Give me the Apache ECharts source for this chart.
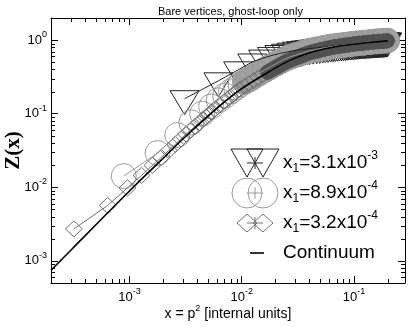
<!DOCTYPE html>
<html>
<head>
<meta charset="utf-8">
<script src="https://cdn.jsdelivr.net/npm/echarts@6/dist/echarts.min.js"></script>
<style>
html, body { margin: 0; padding: 0; background: #fff; }
#chart { width: 409px; height: 327px; }
</style>
</head>
<body>
<div id="chart"></div>
<script>
// x1 = 3.1e-3 (triangles)
const triX = [0.0031, 0.0062, 0.0093, 0.0124, 0.0155, 0.0186, 0.0217, 0.0248, 0.0279, 0.031,
  0.0341, 0.0372, 0.0403, 0.0434, 0.0465, 0.0496, 0.0527, 0.0558, 0.0589, 0.062,
  0.0651, 0.0682, 0.0713, 0.0744, 0.0775, 0.0806, 0.0837, 0.0868, 0.0899, 0.093,
  0.0961, 0.0992, 0.1023, 0.1054, 0.1085, 0.1116, 0.1147, 0.1178, 0.1209, 0.124,
  0.1271, 0.1302, 0.1333, 0.1364, 0.1395, 0.1426, 0.1457, 0.1488, 0.1519, 0.155,
  0.1581, 0.1612, 0.1643, 0.1674, 0.1705, 0.1736, 0.1767, 0.1798, 0.1829, 0.186,
  0.1891, 0.1922, 0.1953, 0.1984];
const triY = [0.160, 0.280, 0.395, 0.505, 0.570, 0.620, 0.658, 0.685, 0.709, 0.730,
  0.745, 0.757, 0.768, 0.778, 0.788, 0.797, 0.806, 0.815, 0.823, 0.831,
  0.838, 0.845, 0.851, 0.857, 0.863, 0.868, 0.873, 0.878, 0.883, 0.888,
  0.892, 0.896, 0.900, 0.904, 0.908, 0.911, 0.914, 0.917, 0.920, 0.923,
  0.926, 0.929, 0.932, 0.934, 0.936, 0.938, 0.940, 0.942, 0.944, 0.946,
  0.948, 0.950, 0.952, 0.954, 0.956, 0.958, 0.960, 0.962, 0.964, 0.966,
  0.968, 0.970, 0.972, 0.974];

// x1 = 8.9e-4 (circles)
const circX = [0.00089, 0.00178, 0.00267, 0.00356, 0.00445, 0.00534, 0.00623, 0.00712, 0.00801, 0.0089,
  0.00979, 0.01068, 0.01157, 0.01246, 0.01424, 0.01602, 0.0178, 0.02047, 0.02314, 0.0267,
  0.03115, 0.0356, 0.04094, 0.04717, 0.05429, 0.0623, 0.0712, 0.08188, 0.09345, 0.1068,
  0.1219, 0.1388, 0.1584, 0.178, 0.1976];
const circY = [0.0142, 0.0292, 0.0513, 0.0760, 0.1001, 0.1253, 0.1523, 0.1762, 0.2011, 0.2263,
  0.2517, 0.2725, 0.2928, 0.3127, 0.3534, 0.3933, 0.4294, 0.4834, 0.5334, 0.5891,
  0.6347, 0.6781, 0.7223, 0.7512, 0.7848, 0.8177, 0.8388, 0.8605, 0.8836, 0.9044,
  0.9218, 0.9412, 0.9615, 0.9736, 0.9858];

// x1 = 3.2e-4 (diamonds)
const diaX = [0.00032, 0.00064, 0.00096, 0.00128, 0.0016, 0.00192, 0.00224, 0.00256, 0.00288, 0.0032,
  0.00352, 0.00384, 0.00416, 0.00448, 0.0048, 0.00512, 0.00544, 0.00576, 0.0064, 0.00704,
  0.00768, 0.00832, 0.00896, 0.0096, 0.01056, 0.01152, 0.0128, 0.01408, 0.01536, 0.01696,
  0.01856, 0.02048, 0.0224, 0.02464, 0.0272, 0.03008, 0.03328, 0.0368, 0.04064, 0.0448,
  0.0496, 0.05472, 0.06048, 0.06688, 0.07392, 0.0816, 0.09024, 0.09984, 0.1104, 0.1219,
  0.1347, 0.1491, 0.1648, 0.1821, 0.1984];
const diaY = [0.00272, 0.00567, 0.0098, 0.0145, 0.0198, 0.0255, 0.0317, 0.0383, 0.0454, 0.0528,
  0.0598, 0.0670, 0.0747, 0.0824, 0.0903, 0.0984, 0.1067, 0.1151, 0.1322, 0.1479,
  0.1639, 0.180, 0.1966, 0.2134, 0.2355, 0.2553, 0.2818, 0.3083, 0.3346, 0.3653,
  0.395, 0.430, 0.4645, 0.5044, 0.538, 0.571, 0.606, 0.643, 0.679, 0.704,
  0.732, 0.758, 0.787, 0.810, 0.828, 0.846, 0.865, 0.885, 0.900, 0.914,
  0.929, 0.944, 0.958, 0.969, 0.979];

// continuum curve
const contX = [0.0002, 0.000316, 0.0005, 0.001, 0.002, 0.00316, 0.00631, 0.01, 0.0158, 0.0251, 0.0398, 0.0631, 0.1, 0.158, 0.2];
const contY = [0.000741, 0.00151, 0.00307, 0.00891, 0.0249, 0.049, 0.126, 0.219, 0.339, 0.507, 0.668, 0.794, 0.881, 0.951, 0.977];

const legendNames = ['{b|x}{sub|1}{b|=3.1x10}{sup|-3}', '{b|x}{sub|1}{b|=8.9x10}{sup|-4}', '{b|x}{sub|1}{b|=3.2x10}{sup|-4}', '{b|Continuum}'];

const xMinorTicks = [3e-4, 4e-4, 5e-4, 6e-4, 7e-4, 8e-4, 9e-4, 2e-3, 3e-3, 4e-3, 5e-3, 6e-3, 7e-3, 8e-3, 9e-3,
  0.02, 0.03, 0.04, 0.05, 0.06, 0.07, 0.08, 0.09, 0.2];
const yMinorTicks = [6e-4, 7e-4, 8e-4, 9e-4, 2e-3, 3e-3, 4e-3, 5e-3, 6e-3, 7e-3, 8e-3, 9e-3,
  0.02, 0.03, 0.04, 0.05, 0.06, 0.07, 0.08, 0.09, 0.2, 0.3, 0.4, 0.5, 0.6, 0.7, 0.8, 0.9];

const SANS = '"Liberation Sans", Arial, Helvetica, sans-serif';
const SERIF = '"Liberation Serif", "Times New Roman", serif';
const TRI = '#222', CIRC = '#9a9a9a', DIA = '#707070';

const pairs = (xs, ys) => xs.map((x, i) => [x, ys[i]]);

const decadeLabel = (v) => {
    const e = Math.log10(v);
    const r = Math.round(e);
    if (Math.abs(e - r) > 1e-6) return '';
    return '{b|10}{s|' + r + '}';
};
const labelRich = {
    b: { fontSize: 13, lineHeight: 20, fontFamily: SANS, color: '#000' },
    s: { fontSize: 9, lineHeight: 9, verticalAlign: 'top', fontFamily: SANS, color: '#000' },
};

const tickLine = (x1, y1, x2, y2) => ({
    type: 'line',
    shape: { x1, y1, x2, y2 },
    style: { stroke: '#000', lineWidth: 1 },
});
const minorX = (params, api) => {
    const cs = params.coordSys;
    const x = Math.round(api.coord([api.value(0), 1])[0]) + 0.5;
    return {
        type: 'group',
        children: [
            tickLine(x, cs.y + cs.height, x, cs.y + cs.height - 4),
            tickLine(x, cs.y, x, cs.y + 4),
        ],
    };
};
const minorY = (params, api) => {
    const cs = params.coordSys;
    const y = Math.round(api.coord([0.001, api.value(1)])[1]) + 0.5;
    return {
        type: 'group',
        children: [
            tickLine(cs.x, y, cs.x + 4, y),
            tickLine(cs.x + cs.width, y, cs.x + cs.width - 4, y),
        ],
    };
};

// open (unfilled) xmgrace-like symbols
const symbolItem = (kind, color) => (params, api) => {
    const p = api.coord([api.value(0), api.value(1)]);
    const x = p[0], y = p[1];
    let el;
    if (kind === 'tri') {
        el = { type: 'polygon', shape: { points: [[x - 14.5, y - 8], [x + 14.5, y - 8], [x, y + 16]] } };
    } else if (kind === 'circ') {
        el = { type: 'circle', shape: { cx: x, cy: y, r: 12.5 } };
    } else {
        el = { type: 'polygon', shape: { points: [[x, y - 8], [x + 8.5, y], [x, y + 8], [x - 8.5, y]] } };
    }
    el.style = { fill: 'none', stroke: color, lineWidth: 1 };
    return el;
};

// where the symbols pile up they merge into a solid band: draw it as thick segments
const bandItem = (pts, color, width) => (params, api) => {
    const i = params.dataIndex;
    const a = api.coord(pts[Math.max(0, i - 1)]);
    const b = api.coord(pts[i]);
    return {
        type: 'line',
        shape: { x1: a[0], y1: a[1], x2: b[0], y2: b[1] },
        style: { stroke: color, lineWidth: width, lineCap: 'round' },
    };
};
const circBand = pairs(circX, circY).filter((p) => p[0] >= 0.0105);
const diaBand = pairs(diaX, diaY).filter((p) => p[0] >= 0.016);

// legend drawn like the xmgrace one: two symbols joined by a short line
const legendRich = {
    b: { fontSize: 19, lineHeight: 26, fontFamily: SANS, color: '#000' },
    sub: { fontSize: 12, lineHeight: 12, verticalAlign: 'bottom', padding: [0, 0, 1, 0], fontFamily: SANS, color: '#000' },
    sup: { fontSize: 12, lineHeight: 12, verticalAlign: 'top', fontFamily: SANS, color: '#000' },
};
const legendItems = () => {
    const rows = [163, 193, 223, 253];
    const ax = 247, bx = 263, mx = 255;
    const colors = [TRI, CIRC, DIA];
    const out = [];
    rows.forEach((cy, i) => {
        if (i < 3) {
            [ax, bx].forEach((cx) => {
                if (i === 0) {
                    out.push({ type: 'polygon', shape: { points: [[cx - 16, cy - 14], [cx + 16, cy - 14], [cx, cy + 14]] },
                        style: { fill: 'none', stroke: colors[i], lineWidth: 1 } });
                } else if (i === 1) {
                    out.push({ type: 'circle', shape: { cx, cy, r: 15 },
                        style: { fill: 'none', stroke: colors[i], lineWidth: 1 } });
                } else {
                    out.push({ type: 'polygon', shape: { points: [[cx, cy - 9], [cx + 10, cy], [cx, cy + 9], [cx - 10, cy]] },
                        style: { fill: 'none', stroke: colors[i], lineWidth: 1 } });
                }
            });
            out.push({ type: 'line', shape: { x1: ax, y1: cy, x2: bx, y2: cy }, style: { stroke: colors[i], lineWidth: 1 } });
            out.push({ type: 'line', shape: { x1: mx, y1: cy - 6, x2: mx, y2: cy + 6 }, style: { stroke: colors[i], lineWidth: 1 } });
        } else {
            out.push({ type: 'line', shape: { x1: 250, y1: cy, x2: 264, y2: cy }, style: { stroke: '#000', lineWidth: 1.6 } });
        }
        out.push({
            type: 'text', x: 283, y: cy,
            style: {
                text: legendNames[i], rich: legendRich, fill: '#000', fontSize: 19, fontFamily: SANS,
                align: 'left', verticalAlign: 'middle', textAlign: 'left', textVerticalAlign: 'middle',
            },
        });
    });
    return out;
};

const chart = echarts.init(document.getElementById('chart'), null, { renderer: 'canvas' });

const baseX = {
    type: 'log',
    min: 0.0002,
    max: 0.285,
    splitLine: { show: false },
    axisLine: { lineStyle: { color: '#000', width: 1 } },
    axisTick: { inside: true, length: 7, lineStyle: { color: '#000', width: 1 } },
};
const baseY = {
    type: 'log',
    min: 0.0005,
    max: 2,
    splitLine: { show: false },
    axisLine: { lineStyle: { color: '#000', width: 1 } },
    axisTick: { inside: true, length: 7, lineStyle: { color: '#000', width: 1 } },
};

const connector = (xs, ys, color) => ({
    type: 'line',
    data: pairs(xs, ys),
    symbol: 'none',
    silent: true,
    lineStyle: { color, width: 1 },
});
const symbols = (xs, ys, kind, color) => ({
    type: 'custom',
    renderItem: symbolItem(kind, color),
    data: pairs(xs, ys),
    encode: { x: 0, y: 1 },
    silent: true,
});

const option = {
    animation: false,
    backgroundColor: '#fff',
    title: {
        text: 'Bare vertices, ghost-loop only',
        left: 153,
        top: 1,
        textStyle: { fontSize: 11, fontWeight: 'normal', color: '#000', fontFamily: SANS },
    },
    grid: { left: 51, right: 4, top: 18, bottom: 44, containLabel: false, outerBoundsMode: 'none' },
    xAxis: [
        Object.assign({}, baseX, {
            position: 'bottom',
            axisLabel: { formatter: decadeLabel, margin: 4, rich: labelRich },
            name: 'x = p{s|2} [internal units]',
            nameLocation: 'middle',
            nameGap: 21,
            nameMoveOverlap: false,
            nameTextStyle: {
                fontSize: 14, lineHeight: 20, color: '#000', fontFamily: SANS,
                rich: { s: { fontSize: 9, lineHeight: 9, verticalAlign: 'top', fontFamily: SANS, color: '#000' } },
            },
        }),
        Object.assign({}, baseX, { position: 'top', axisLabel: { show: false } }),
    ],
    yAxis: [
        Object.assign({}, baseY, {
            position: 'left',
            axisLabel: { formatter: decadeLabel, margin: 4, rich: labelRich },
            name: 'Z(x)',
            nameLocation: 'middle',
            nameRotate: 90,
            nameGap: 27,
            nameMoveOverlap: false,
            nameTextStyle: { fontSize: 21, fontWeight: 'bold', color: '#000', fontFamily: SERIF },
        }),
        Object.assign({}, baseY, { position: 'right', axisLabel: { show: false } }),
    ],
    series: [
        connector(triX, triY, TRI),
        symbols(triX, triY, 'tri', TRI),
        {
            type: 'custom',
            renderItem: bandItem(circBand, '#a2a2a2', 25),
            data: circBand,
            encode: { x: 0, y: 1 },
            silent: true,
        },
        connector(circX, circY, CIRC),
        symbols(circX, circY, 'circ', CIRC),
        connector(diaX, diaY, DIA),
        symbols(diaX, diaY, 'dia', DIA),
        {
            type: 'custom',
            renderItem: bandItem(diaBand, '#515151', 15),
            data: diaBand,
            encode: { x: 0, y: 1 },
            silent: true,
        },
        {
            type: 'line',
            data: pairs(contX, contY),
            symbol: 'none',
            smooth: 0.3,
            silent: true,
            lineStyle: { color: '#000', width: 1.6 },
        },
        {
            type: 'custom',
            renderItem: minorX,
            data: xMinorTicks.map((v) => [v, 1]),
            silent: true,
            z: 10,
        },
        {
            type: 'custom',
            renderItem: minorY,
            data: yMinorTicks.map((v) => [0.001, v]),
            silent: true,
            z: 10,
        },
    ],
    graphic: legendItems(),
};

chart.setOption(option);
</script>
</body>
</html>
